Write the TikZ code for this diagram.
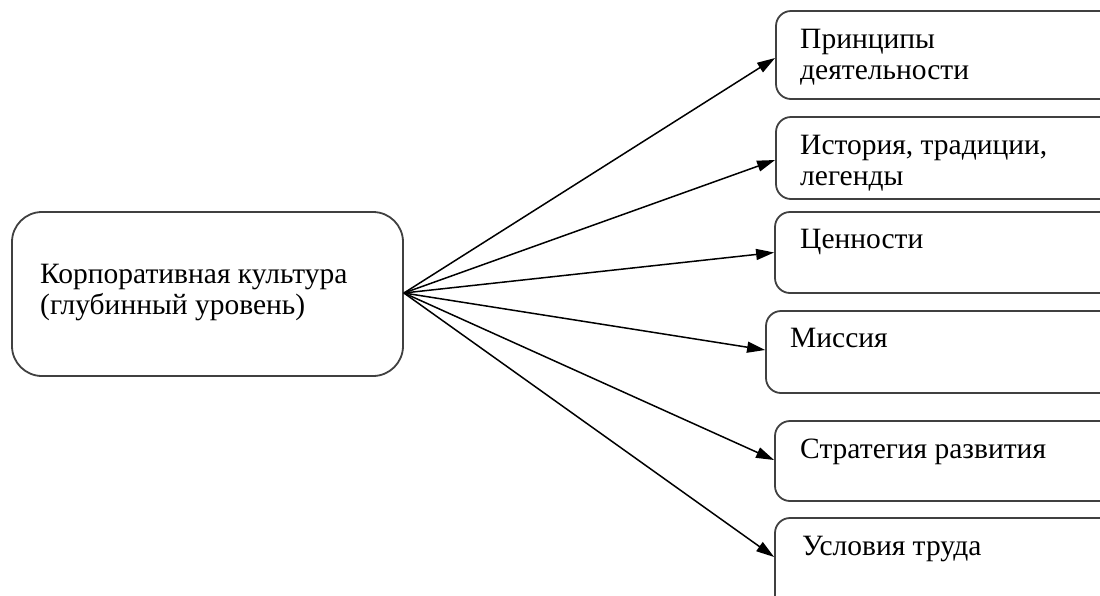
\documentclass[tikz,border=0pt]{standalone}
\usepackage{fontspec}
\setmainfont{Liberation Serif}
\usetikzlibrary{arrows.meta}
\begin{document}
\begin{tikzpicture}[x=1pt,y=-1pt,
  box/.style={draw=black!75, line width=1.8pt, rounded corners=15pt, inner sep=0pt},
  lbl/.style={anchor=base west, inner sep=0pt, align=left, font=\fontsize{29.5}{31}\selectfont},
  arr/.style={line width=1.5pt, -{Triangle[length=18pt,width=11pt]}}]
\useasboundingbox (0,0) rectangle (1100,595);
\clip (0,0) rectangle (1100,595);
\fill[white] (0,0) rectangle (1100,595);
\node[box, rounded corners=30pt, minimum width=391pt, minimum height=164pt] (L) at (207.5,294) {};
\node[box, minimum width=339pt, minimum height=88pt] (B1) at (945.5,55) {};
\node[box, minimum width=339pt, minimum height=82pt] (B2) at (945.5,158) {};
\node[box, minimum width=340pt, minimum height=81pt] (B3) at (945,252.5) {};
\node[box, minimum width=349pt, minimum height=82pt] (B4) at (940.5,352) {};
\node[box, minimum width=340pt, minimum height=80pt] (B5) at (945,461) {};
\node[box, minimum width=340pt, minimum height=102pt] (B6) at (945,569) {};
\node[lbl] (tL) at (40,314) {Корпоративная культура\\(глубинный уровень)};
\node[lbl] (t1) at (800,79) {Принципы\\деятельности};
\node[lbl] (t2) at (800,185) {История, традиции,\\легенды};
\node[lbl] (t3) at (800,248) {Ценности};
\node[lbl] (t4) at (790,347) {Миссия};
\node[lbl] (t5) at (800,458) {Стратегия развития};
\node[lbl] (t6) at (802,555) {Условия труда};
\coordinate (S) at ([yshift=1pt]L.east);
\draw[arr] (S) -- ([yshift=-3pt]B1.west);
\draw[arr] (S) -- ([yshift=-2pt]B2.west);
\draw[arr] (S) -- (B3.west);
\draw[arr] (S) -- ([yshift=2pt]B4.west);
\draw[arr] (S) -- ([yshift=1pt]B5.west);
\draw[arr] (S) -- ([yshift=12pt]B6.west);
\end{tikzpicture}
\end{document}
